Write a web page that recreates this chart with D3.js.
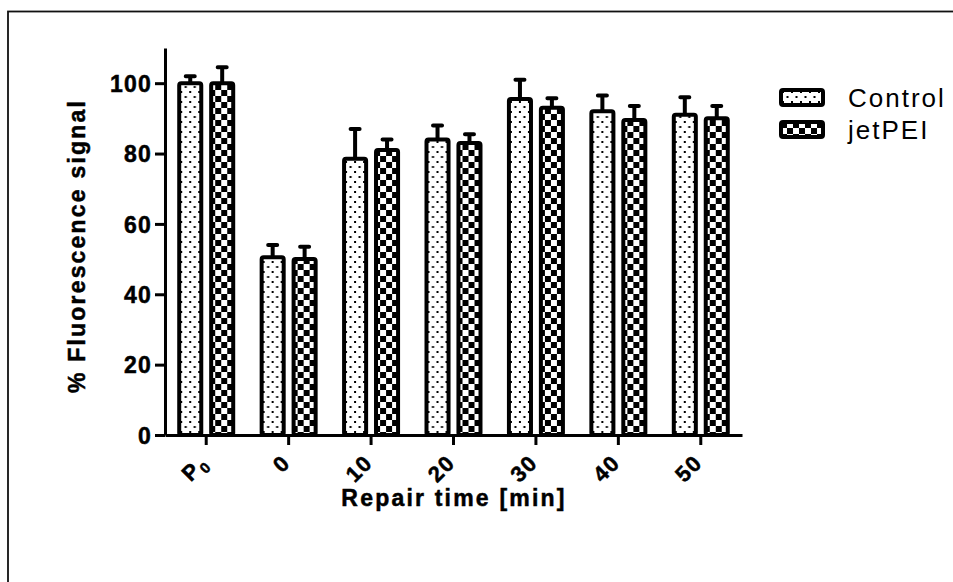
<!DOCTYPE html>
<html>
<head>
<meta charset="utf-8">
<script src="https://cdn.jsdelivr.net/npm/d3@7"></script>
<style>
  html, body { margin: 0; padding: 0; background: #fff; }
  svg { display: block; }
  text { font-family: Arial, "Liberation Sans", sans-serif; fill: #000; }
</style>
</head>
<body>
<svg id="chart" width="953" height="582"></svg>
<script>
// Repair kinetics: fluorescence signal per repair time point
const categories = ["P0", "0", "10", "20", "30", "40", "50"];
const seriesNames = ["Control", "jetPEI"];
const controlValues = [100, 50.5, 78.5, 84, 95.5, 92, 91];
const controlErrors = [2, 3.5, 8.5, 4, 5.5, 4.5, 5];
const jetpeiValues = [100, 50, 81, 83, 93, 89.5, 90];
const jetpeiErrors = [4.5, 3.5, 3, 2.5, 2.7, 4, 3.5];
const yTicks = [0, 20, 40, 60, 80, 100];

const svg = d3.select("#chart");
const FONT = "Arial, 'Liberation Sans', sans-serif";

// outer frame
svg.append("rect")
  .attr("x", 8).attr("y", 11.5).attr("width", 960).attr("height", 600)
  .attr("fill", "none").attr("stroke", "#111").attr("stroke-width", 1.8);

// fill patterns
const defs = svg.append("defs");
const dots = defs.append("pattern").attr("id", "dots")
  .attr("patternUnits", "userSpaceOnUse").attr("width", 9).attr("height", 10);
dots.append("rect").attr("width", 9).attr("height", 10).attr("fill", "#fff");
dots.append("rect").attr("x", 1).attr("y", 1).attr("width", 2).attr("height", 2).attr("fill", "#000");
dots.append("rect").attr("x", 5.5).attr("y", 6).attr("width", 2).attr("height", 2).attr("fill", "#000");

const checks = defs.append("pattern").attr("id", "checks")
  .attr("patternUnits", "userSpaceOnUse").attr("width", 12).attr("height", 12);
checks.append("rect").attr("width", 12).attr("height", 12).attr("fill", "#fff");
checks.append("rect").attr("x", 0).attr("y", 0).attr("width", 6).attr("height", 6).attr("fill", "#000");
checks.append("rect").attr("x", 6).attr("y", 6).attr("width", 6).attr("height", 6).attr("fill", "#000");

const fills = { "Control": "url(#dots)", "jetPEI": "url(#checks)" };

const x0 = d3.scaleBand().domain(categories).range([165, 742])
  .paddingInner(0.345).paddingOuter(0.1725);
const x1 = d3.scaleBand().domain(seriesNames).range([0, x0.bandwidth()])
  .paddingInner(0.31).paddingOuter(0);
const y = d3.scaleLinear().domain([0, 110]).range([435, 48]);

const rows = categories.map((c, i) => ({
  cat: c,
  bars: [
    { s: "Control", v: controlValues[i], e: controlErrors[i] },
    { s: "jetPEI", v: jetpeiValues[i], e: jetpeiErrors[i] }
  ]
}));

// bold text helper: slightly heavier strokes
function boldText(sel, size, spacing) {
  return sel.style("font-family", FONT).style("font-weight", "bold")
    .style("font-size", size + "px").style("letter-spacing", spacing + "px")
    .attr("fill", "#000").attr("stroke", "#000").attr("stroke-width", 0.5);
}

const g = svg.append("g");

// bars
const groups = g.selectAll("g.grp").data(rows).join("g")
  .attr("class", "grp")
  .attr("transform", d => `translate(${x0(d.cat)},0)`);

groups.selectAll("path.err").data(d => d.bars).join("path")
  .attr("class", "err")
  .attr("d", d => {
    const cx = x1(d.s) + x1.bandwidth() / 2;
    return `M${cx},${y(d.v)}V${y(d.v + d.e)}M${cx - 4.5},${y(d.v + d.e)}H${cx + 4.5}`;
  })
  .attr("fill", "none").attr("stroke", "#000")
  .attr("stroke-width", 4).attr("stroke-linecap", "round");

groups.selectAll("rect.bar").data(d => d.bars).join("rect")
  .attr("class", "bar")
  .attr("x", d => x1(d.s))
  .attr("y", d => y(d.v))
  .attr("width", x1.bandwidth())
  .attr("height", d => y(0) - y(d.v))
  .attr("rx", 2)
  .attr("fill", d => fills[d.s])
  .attr("stroke", "#000").attr("stroke-width", 4);

// y axis
const yAxis = svg.append("g").attr("transform", "translate(165,0)")
  .call(d3.axisLeft(y).tickValues(yTicks).tickSize(10).tickSizeOuter(0).tickPadding(4));
yAxis.select(".domain").attr("stroke", "#000").attr("stroke-width", 3);
yAxis.selectAll(".tick line").attr("stroke", "#000").attr("stroke-width", 3);
boldText(yAxis.selectAll(".tick text"), 23, 1.2)
  .attr("x", -13).attr("dy", "0.36em");

// x axis
const xAxis = svg.append("g").attr("transform", `translate(0,${y(0)})`)
  .call(d3.axisBottom(x0).tickSize(10).tickSizeOuter(0).tickFormat(""));
xAxis.select(".domain").attr("stroke", "#000").attr("stroke-width", 3);
xAxis.selectAll(".tick line").attr("stroke", "#000").attr("stroke-width", 3);

// rotated category labels
const xl = boldText(svg.append("g").selectAll("text").data(categories).join("text"), 22, 1.5)
  .attr("transform", d => `translate(${x0(d) + x0.bandwidth() / 2 + 3},464) rotate(-45)`)
  .attr("text-anchor", "end");
xl.each(function(d) {
  const t = d3.select(this);
  if (d === "P0") {
    t.append("tspan").text("P");
    t.append("tspan").attr("dy", 5).style("font-size", "15px").text("0");
  } else {
    t.text(d);
  }
});

// axis titles
boldText(svg.append("text"), 23, 2.2)
  .attr("x", 454).attr("y", 506).attr("text-anchor", "middle")
  .text("Repair time [min]");

boldText(svg.append("text"), 23, 2.2)
  .attr("transform", "translate(85,246) rotate(-90)").attr("text-anchor", "middle")
  .text("% Fluorescence signal");

// legend
const legend = svg.append("g").selectAll("g").data(seriesNames).join("g")
  .attr("transform", (d, i) => `translate(781,${90 + i * 32})`);
legend.append("rect")
  .attr("width", 42).attr("height", 15).attr("rx", 2)
  .attr("fill", d => fills[d]).attr("stroke", "#000").attr("stroke-width", 4);
legend.append("text")
  .attr("x", 67).attr("y", 8).attr("dy", "0.36em")
  .style("font-size", "26px").style("letter-spacing", "2px")
  .text(d => d);
</script>
</body>
</html>
